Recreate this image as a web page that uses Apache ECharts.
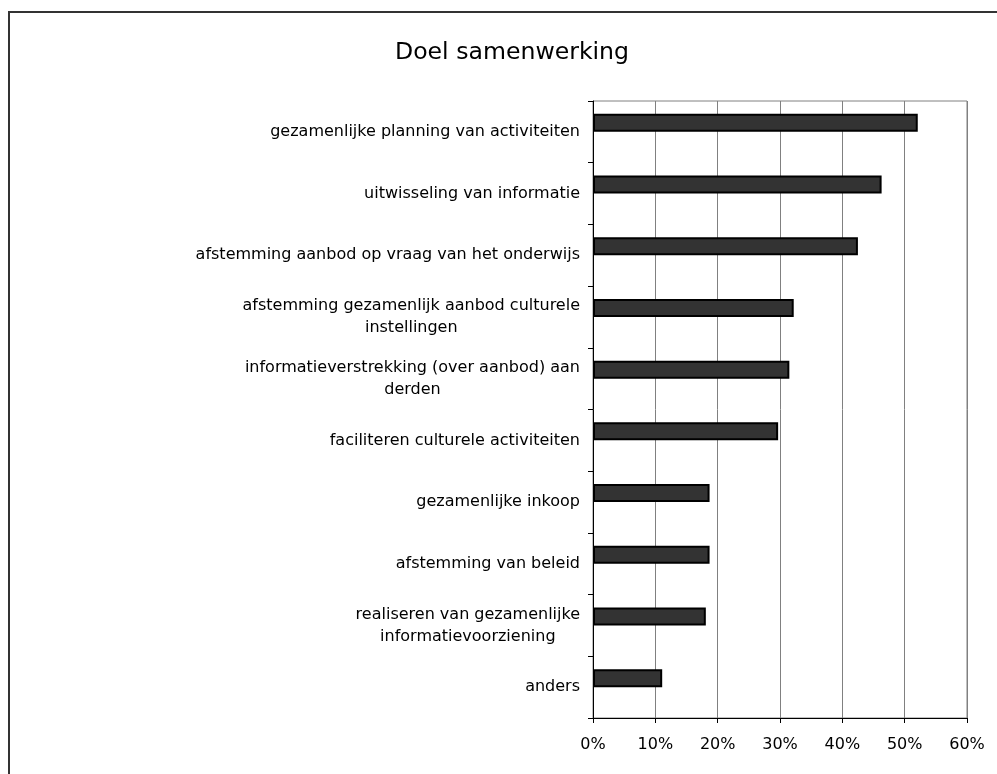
<!DOCTYPE html>
<html>
<head>
<meta charset="utf-8">
<script src="https://cdn.jsdelivr.net/npm/echarts@6/dist/echarts.min.js"></script>
<style>
html,body{margin:0;padding:0;background:#fff;}
#chart{width:997px;height:774px;}
</style>
</head>
<body>
<div id="chart"></div>
<script>
var titleText = 'Doel samenwerking';
var categories = [
  'gezamenlijke planning van activiteiten',
  'uitwisseling van informatie',
  'afstemming aanbod op vraag van het onderwijs',
  'afstemming gezamenlijk aanbod culturele\ninstellingen',
  'informatieverstrekking (over aanbod) aan\nderden',
  'faciliteren culturele activiteiten',
  'gezamenlijke inkoop',
  'afstemming van beleid',
  'realiseren van gezamenlijke\ninformatievoorziening',
  'anders'
];
var values = [52.1, 46.3, 42.5, 32.2, 31.5, 29.7, 18.7, 18.7, 18.1, 11.1];
var emptyValues = [null, null, null, null, null, null, null, null, null, null];
var xTicks = [0, 10, 20, 30, 40, 50, 60];

var chart = echarts.init(document.getElementById('chart'), null, {renderer: 'canvas'});
var FONT = 'DejaVu Sans';
chart.setOption({
  animation: false,
  backgroundColor: '#ffffff',
  graphic: [{
    type: 'rect',
    shape: {x: 9, y: 12, width: 1200, height: 1000},
    style: {fill: 'none', stroke: '#333333', lineWidth: 2},
    silent: true,
    z: -10
  }],
  title: {
    text: titleText,
    left: 390,
    top: 36,
    textStyle: {fontFamily: FONT, fontSize: 23.6, fontWeight: 'normal', color: '#000000'}
  },
  grid: {
    left: 593, right: 30, top: 101, bottom: 56,
    show: true, borderColor: '#808080', borderWidth: 1, backgroundColor: 'transparent',
    containLabel: false
  },
  xAxis: {
    type: 'value',
    min: xTicks[0], max: xTicks[xTicks.length - 1], interval: 10,
    axisLine: {show: true, lineStyle: {color: '#000000', width: 1}},
    axisTick: {show: true, length: 5, lineStyle: {color: '#000000'}},
    splitLine: {show: true, lineStyle: {color: '#808080', width: 1}},
    axisLabel: {
      margin: 19,
      formatter: '{value}%',
      fontFamily: FONT, fontSize: 16, color: '#000000'
    }
  },
  yAxis: {
    type: 'category',
    inverse: true,
    data: categories,
    axisLine: {show: true, lineStyle: {color: '#000000', width: 1}},
    axisTick: {show: true, length: 5, inside: false, lineStyle: {color: '#000000'}},
    splitLine: {show: false},
    axisLabel: {
      interval: 0,
      margin: 13,
      align: 'right',
      formatter: function (v) {
        return v.split('\n').map(function (s) { return '{c|' + s + '}'; }).join('\n');
      },
      rich: {
        c: {align: 'center', fontFamily: FONT, fontSize: 16, color: '#000000', lineHeight: 22}
      }
    }
  },
  series: [
    {
      name: 'Doel',
      type: 'bar',
      data: values,
      barWidth: 18,
      barGap: '0%',
      itemStyle: {color: '#333333', borderColor: '#000000', borderWidth: 2}
    },
    {
      name: 'leeg',
      type: 'bar',
      data: emptyValues,
      barWidth: 18,
      barGap: '0%',
      itemStyle: {color: '#333333'}
    }
  ]
});
</script>
</body>
</html>
